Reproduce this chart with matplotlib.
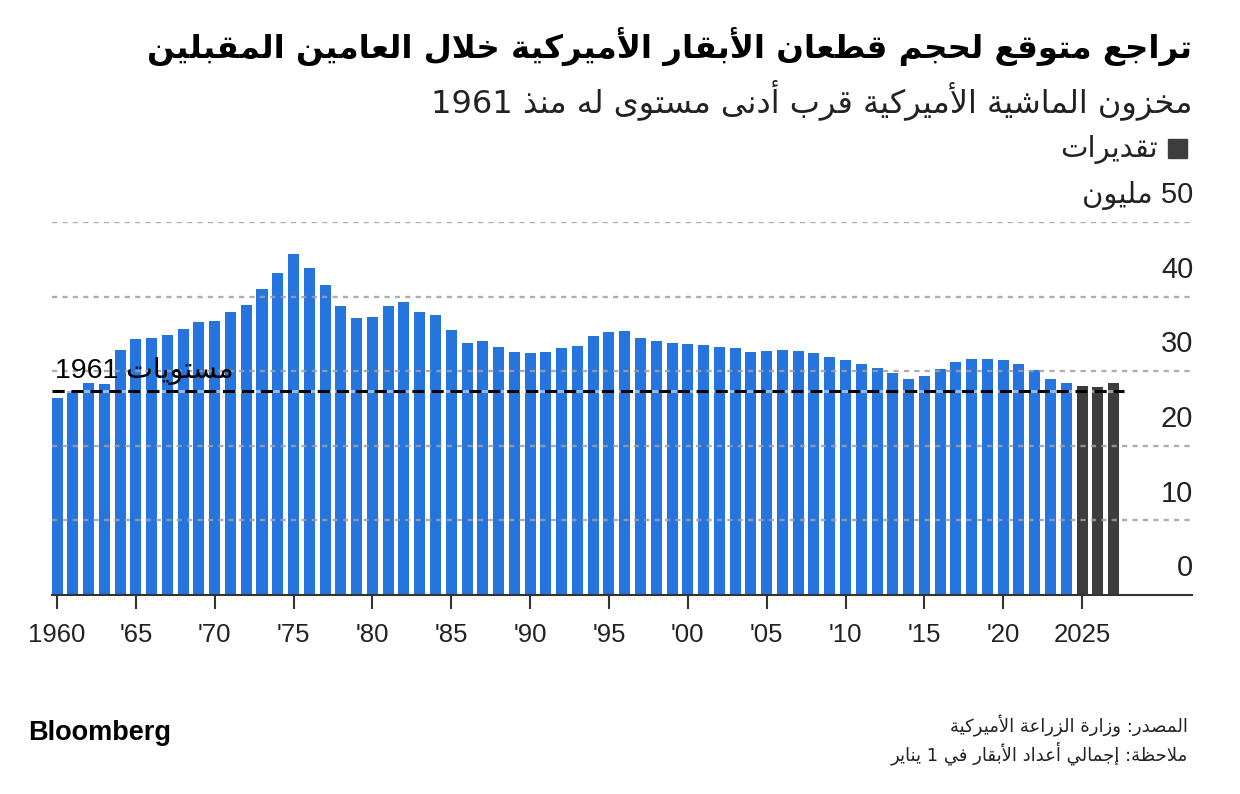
import re
import matplotlib
matplotlib.use("Agg")
import matplotlib.pyplot as plt
import matplotlib.transforms as mtransforms
from matplotlib.patches import Rectangle

# --- data (beef cow inventory, million head, Jan 1) ---
years = list(range(1960, 2028))
values = [26.4, 27.4, 28.4, 28.3, 32.9, 34.3, 34.5, 34.8, 35.7, 36.6,
          36.7, 37.9, 38.9, 41.0, 43.2, 45.7, 43.9, 41.5, 38.7, 37.1,
          37.2, 38.8, 39.3, 38.0, 37.5, 35.5, 33.8, 34.0, 33.2, 32.6,
          32.5, 32.6, 33.1, 33.4, 34.7, 35.3, 35.4, 34.5, 34.0, 33.8,
          33.6, 33.5, 33.2, 33.1, 32.6, 32.7, 32.8, 32.7, 32.5, 31.9,
          31.5, 31.0, 30.4, 29.7, 29.0, 29.4, 30.3, 31.3, 31.6, 31.7,
          31.5, 31.0, 30.1, 29.0, 28.4, 28.0, 27.9, 28.4]
first_estimate_year = 2025
tick_years = list(range(1960, 2026, 5))
tick_labels = ["1960", "'65", "'70", "'75", "'80", "'85", "'90", "'95",
               "'00", "'05", "'10", "'15", "'20", "2025"]
y_ticks = [0, 10, 20, 30, 40, 50]

title = "تراجع متوقع لحجم قطعان الأبقار الأميركية خلال العامين المقبلين"
subtitle = "مخزون الماشية الأميركية قرب أدنى مستوى له منذ 1961"
legend_label = "تقديرات"
unit_label = "مليون"
ref_label = "مستويات 1961"
source = "المصدر: وزارة الزراعة الأميركية"
note = "ملاحظة: إجمالي أعداد الأبقار في 1 يناير"

BLUE = "#2674de"
DARK = "#3d3d3d"

# --- minimal arabic shaping (matplotlib has no text shaping) ---
FORMS = {
    'ء': (0xFE80, 1), 'آ': (0xFE81, 2), 'أ': (0xFE83, 2), 'ؤ': (0xFE85, 2),
    'إ': (0xFE87, 2), 'ئ': (0xFE89, 4), 'ا': (0xFE8D, 2), 'ب': (0xFE8F, 4),
    'ة': (0xFE93, 2), 'ت': (0xFE95, 4), 'ث': (0xFE99, 4), 'ج': (0xFE9D, 4),
    'ح': (0xFEA1, 4), 'خ': (0xFEA5, 4), 'د': (0xFEA9, 2), 'ذ': (0xFEAB, 2),
    'ر': (0xFEAD, 2), 'ز': (0xFEAF, 2), 'س': (0xFEB1, 4), 'ش': (0xFEB5, 4),
    'ص': (0xFEB9, 4), 'ض': (0xFEBD, 4), 'ط': (0xFEC1, 4), 'ظ': (0xFEC5, 4),
    'ع': (0xFEC9, 4), 'غ': (0xFECD, 4), 'ف': (0xFED1, 4), 'ق': (0xFED5, 4),
    'ك': (0xFED9, 4), 'ل': (0xFEDD, 4), 'م': (0xFEE1, 4), 'ن': (0xFEE5, 4),
    'ه': (0xFEE9, 4), 'و': (0xFEED, 2), 'ى': (0xFEEF, 2), 'ي': (0xFEF1, 4),
}
LAM_ALEF = {'آ': 0xFEF5, 'أ': 0xFEF7, 'إ': 0xFEF9, 'ا': 0xFEFB}


def ar(text):
    items = []
    i = 0
    while i < len(text):
        c = text[i]
        if c == 'ل' and i + 1 < len(text) and text[i + 1] in LAM_ALEF:
            items.append((c, LAM_ALEF[text[i + 1]], 2))
            i += 2
        else:
            if c in FORMS:
                items.append((c, FORMS[c][0], FORMS[c][1]))
            else:
                items.append((c, None, 0))
            i += 1
    out = []
    for k, (c, base, n) in enumerate(items):
        if n == 0:
            out.append(c)
            continue
        prev_j = k > 0 and items[k - 1][2] == 4
        next_j = n == 4 and k + 1 < len(items) and items[k + 1][2] >= 2
        if n == 1:
            f = 0
        elif n == 2:
            f = 1 if prev_j else 0
        else:
            f = 3 if (prev_j and next_j) else 1 if prev_j else 2 if next_j else 0
        out.append(chr(base + f))
    runs = re.findall(r'[0-9A-Za-z.]+|[^0-9A-Za-z.]', ''.join(out))
    return ''.join(reversed(runs))


AR = ["DejaVu Sans"]
NUM = ["Liberation Sans", "DejaVu Sans"]

fig = plt.figure(figsize=(12.4, 7.94), dpi=100)
ax = fig.add_axes([52 / 1240, 1 - 595 / 794, 1140 / 1240, 373 / 794])

colors = [DARK if y >= first_estimate_year else BLUE for y in years]
ax.bar(years, values, width=0.7, color=colors, zorder=2)

ax.set_xlim(1960 - 5 / 15.77, 1960 + 1135 / 15.77)
ax.set_ylim(0, 50)

# dotted gridlines, drawn over the bars
for v in y_ticks[1:]:
    ax.axhline(v, color="#a0a0a0", lw=1.7, ls=(0, (2.2, 2.2)), alpha=0.85, zorder=3)

# 1961 reference line
ref = values[years.index(1961)]
ax.plot([ax.get_xlim()[0], years[-1] + 0.65], [ref, ref], color="white",
        lw=2.2, alpha=0.5, zorder=4)
ax.plot([ax.get_xlim()[0], years[-1] + 0.65], [ref, ref], color="black",
        lw=2.2, ls=(0, (4, 2.2)), zorder=5)
ax.text(1959.85, ref + 0.8, ar(ref_label), family=NUM, fontsize=20.5,
        ha="left", va="bottom", zorder=6)

# y labels at right, above each gridline
trans = mtransforms.blended_transform_factory(ax.transAxes, ax.transData)
for v in y_ticks:
    lab = str(v)
    if v == 50:
        lab = ar(str(v) + " " + unit_label)
    ax.text(1.001, v + 3.6, lab, transform=trans, ha="right", va="center",
            family=NUM, fontsize=21, color="#222222")

for s in ["top", "left", "right"]:
    ax.spines[s].set_visible(False)
ax.spines["bottom"].set_color("#333333")
ax.spines["bottom"].set_linewidth(1.5)
ax.set_yticks([])
ax.set_xticks(tick_years)
ax.set_xticklabels(tick_labels, family=NUM, fontsize=18.5, color="#222222")
ax.tick_params(axis="x", length=10, width=1.5, color="#333333", pad=10)

# titles and legend
fig.text(1192 / 1240, 1 - 47 / 794, ar(title), family=AR, fontweight="bold",
         fontsize=23.3, ha="right", va="center")
fig.text(1192 / 1240, 1 - 100 / 794, ar(subtitle), family=AR, fontsize=23,
         ha="right", va="center", color="#222222")
fig.patches.append(Rectangle((1168 / 1240, 1 - 158 / 794), 19 / 1240, 19 / 794,
                             transform=fig.transFigure, color=DARK))
fig.text(1158 / 1240, 1 - 149 / 794, ar(legend_label), family=AR, fontsize=21,
         ha="right", va="center", color="#222222")

# footer
fig.text(28 / 1240, 1 - 733 / 794, "Bloomberg", family=["Liberation Sans"],
         fontweight="bold", fontsize=19.5, ha="left", va="center")
fig.text(1188 / 1240, 1 - 726 / 794, ar(source), family=AR, fontsize=13,
         ha="right", va="center", color="#222222")
fig.text(1188 / 1240, 1 - 753 / 794, ar(note), family=AR, fontsize=13,
         ha="right", va="center", color="#222222")

fig.savefig("out.png", dpi=100)
